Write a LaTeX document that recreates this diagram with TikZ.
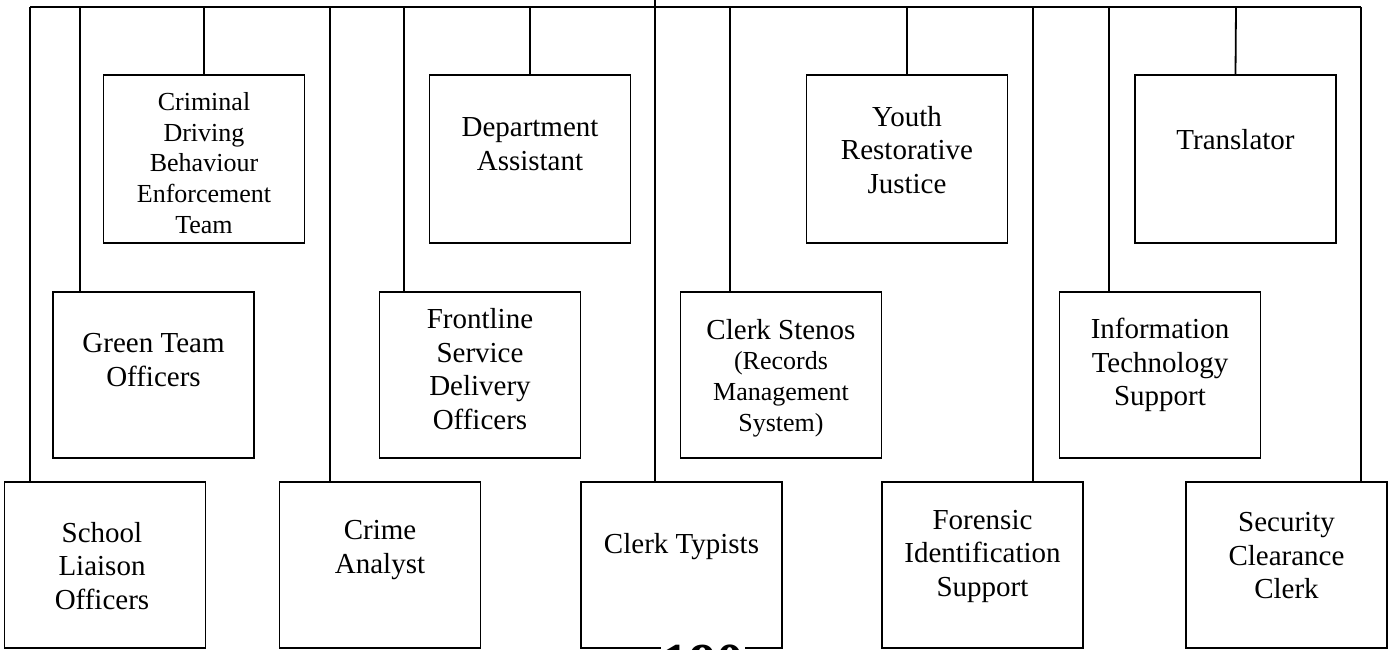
\documentclass[tikz,border=0pt]{standalone}
\usepackage{fontspec}
\setmainfont{Liberation Serif}
\usetikzlibrary{positioning}

\begin{document}
\begin{tikzpicture}[
		x=1pt,y=-1pt,
		line width=1.8pt,
		unit/.style={
			draw=black,
			line width=1.8pt,
			rectangle,
			minimum width=201pt,
			minimum height=166pt,
			inner sep=0pt
		},
		lbl/.style={
			align=center,
			inner sep=0pt,
			font=\fontsize{29}{33.5}\selectfont
		},
		small lbl/.style={
			lbl,
			font=\fontsize{26}{30.7}\selectfont
		}
		]
		\clip (0,0) rectangle (1392,650);
		
		% Top row
		\node[unit, minimum height=168pt] (cdb) at (204,159) {};
		\node[unit, minimum height=168pt] (da)  at (530,159) {};
		\node[unit, minimum height=168pt] (yrj) at (907,159) {};
		\node[unit, minimum height=168pt] (tr)  at (1235.5,159) {};
		
		% Middle row
		\node[unit] (gto) at (153.5,375) {};
		\node[unit] (fsd) at (480,375) {};
		\node[unit] (cs)  at (781,375) {};
		\node[unit] (its) at (1160,375) {};
		
		% Bottom row
		\node[unit] (slo) at (105,565) {};
		\node[unit] (ca)  at (380,565) {};
		\node[unit] (ct)  at (681.5,565) {};
		\node[unit] (fis) at (982.5,565) {};
		\node[unit] (scc) at (1286.5,565) {};
		
		% Texts
		\node[small lbl] (cdb-t) at (204,163) {Criminal\\Driving\\Behaviour\\Enforcement\\Team};
		\node[lbl] (da-t)  at (530,144) {Department\\Assistant};
		\node[lbl] (yrj-t) at (907,150) {Youth\\Restorative\\Justice};
		\node[lbl] (tr-t)  at (1235.5,140) {Translator};
		\node[lbl] (gto-t) at (153.5,360) {Green Team\\Officers};
		\node[lbl] (fsd-t) at (480,369) {Frontline\\Service\\Delivery\\Officers};
		\node[small lbl] (cs-t) at (781,378) {{\fontsize{29}{30.7}\selectfont Clerk Stenos}\\(Records\\Management\\System)};
		\node[lbl] (its-t) at (1160,365) {Information\\Technology\\Support};
		\node[lbl] (slo-t) at (102,566) {School\\Liaison\\Officers};
		\node[lbl] (ca-t)  at (380,550) {Crime\\Analyst};
		\node[lbl] (ct-t)  at (681.5,547) {Clerk Typists};
		\node[lbl] (fis-t) at (982.5,556) {Forensic\\Identification\\Support};
		\node[lbl] (scc-t) at (1286.5,556) {Security\\Clearance\\Clerk};
		
		% Page number, cut off at the bottom
		\node[anchor=base west, inner sep=1pt, fill=white,
			font=\fontsize{55}{60}\bfseries] (page) at (660,681) {190};
		
		% Bar and drops
		\coordinate (top) at (655,0);
		\coordinate (j-slo) at (30,7);
		\coordinate (j-gto) at (80,7);
		\coordinate (j-cdb) at (204,7);
		\coordinate (j-ca)  at (330,7);
		\coordinate (j-fsd) at (404,7);
		\coordinate (j-da)  at (530,7);
		\coordinate (j-ct)  at (655,7);
		\coordinate (j-cs)  at (730,7);
		\coordinate (j-yrj) at (907,7);
		\coordinate (j-fis) at (1033,7);
		\coordinate (j-its) at (1109,7);
		\coordinate (j-tr)  at (1236,7);
		\coordinate (j-scc) at (1361,7);
		
		\draw (j-slo) -- (j-scc);
		\draw (top) -- (top |- ct.north);
		\draw (j-slo) -- (j-slo |- slo.north);
		\draw (j-gto) -- (j-gto |- gto.north);
		\draw (j-cdb) -- (cdb.north);
		\draw (j-ca)  -- (j-ca |- ca.north);
		\draw (j-fsd) -- (j-fsd |- fsd.north);
		\draw (j-da)  -- (da.north);
		\draw (j-cs)  -- (j-cs |- cs.north);
		\draw (j-yrj) -- (yrj.north);
		\draw (j-fis) -- (j-fis |- fis.north);
		\draw (j-its) -- (j-its |- its.north);
		\draw (j-tr)  -- (tr.north);
		\draw (j-scc) -- (j-scc |- scc.north);
	\end{tikzpicture}
\end{document}
